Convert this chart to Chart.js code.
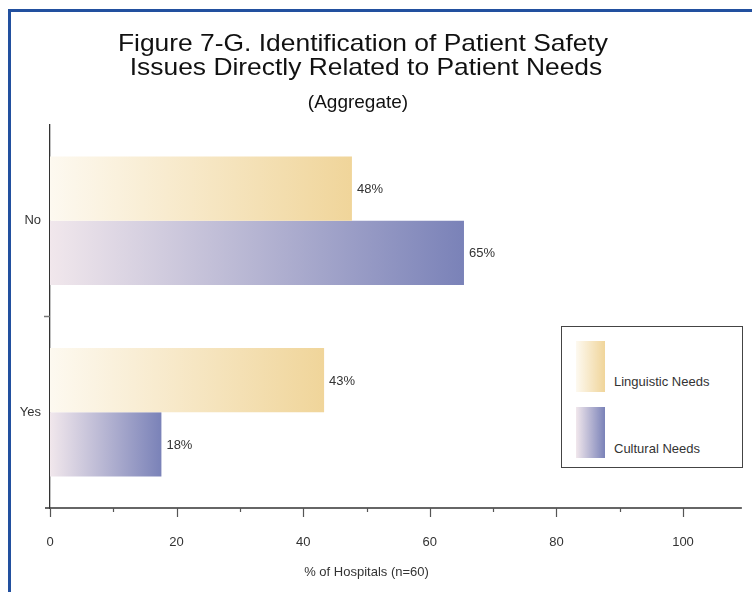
<!DOCTYPE html>
<html>
<head>
<meta charset="utf-8">
<script src="https://cdn.jsdelivr.net/npm/chart.js@4.4.1/dist/chart.umd.min.js"></script>
<style>
html,body{margin:0;padding:0;background:#fff;}
#wrap{position:relative;width:752px;height:592px;overflow:hidden;background:#fff;font-family:'Liberation Sans',Arial,Helvetica,sans-serif;}
#frame{position:absolute;left:8px;top:9px;width:800px;height:700px;border-left:3px solid #22509F;border-top:3px solid #22509F;}
#chart{position:absolute;left:0;top:0;}
.t{position:absolute;white-space:nowrap;text-align:center;color:#111;}
#legend{position:absolute;left:561px;top:326px;width:180px;height:140px;border:1px solid #444;background:#fff;}
.sw{position:absolute;left:14px;width:29px;height:51px;}
.lt{position:absolute;left:52px;font-size:13px;line-height:16px;color:#333;white-space:nowrap;}
</style>
</head>
<body>
<div id="wrap">
  <div id="frame"></div>
  <canvas id="chart" width="752" height="592"></canvas>
  <div class="t" id="t1" style="left:63px;width:600px;top:31px;font-size:24px;line-height:24px;transform:scaleX(1.1);"></div>
  <div class="t" id="t2" style="left:66px;width:600px;top:55px;font-size:24px;line-height:24px;transform:scaleX(1.1);"></div>
  <div class="t" id="t3" style="left:208px;width:300px;top:92px;font-size:19px;line-height:19px;"></div>
  <div id="legend"></div>
</div>
<script>
// ---- data ----
const titleLines = ['Figure 7-G. Identification of Patient Safety', 'Issues Directly Related to Patient Needs', '(Aggregate)'];
const categories = ['No', 'Yes'];
const seriesNames = ['Linguistic Needs', 'Cultural Needs'];
const linguisticValues = [47.7, 43.3];
const culturalValues = [65.4, 17.6];
const xTickValues = [0, 10, 20, 30, 40, 50, 60, 70, 80, 90, 100];
const xTickLabels = ['0', '', '20', '', '40', '', '60', '', '80', '', '100'];
const xAxisTitle = '% of Hospitals (n=60)';
const xAxisLineEnd = 109.3; // axis line drawn a bit past 100

// ---- styles ----
const seriesGradients = [
  ['#FDF9F0', '#F0D59A'],
  ['#F1E7EC', '#7A82B8']
];

document.getElementById('t1').textContent = titleLines[0];
document.getElementById('t2').textContent = titleLines[1];
document.getElementById('t3').textContent = titleLines[2];

// legend (HTML)
const legendEl = document.getElementById('legend');
seriesNames.forEach((name, i) => {
  const sw = document.createElement('div');
  sw.className = 'sw';
  sw.style.top = (14 + i * 66) + 'px';
  sw.style.background = 'linear-gradient(to right,' + seriesGradients[i][0] + ',' + seriesGradients[i][1] + ')';
  legendEl.appendChild(sw);
  const lt = document.createElement('div');
  lt.className = 'lt';
  lt.style.top = (47 + i * 67) + 'px';
  lt.textContent = name;
  legendEl.appendChild(lt);
});

function barGradient(stops) {
  return function (ctx) {
    const chart = ctx.chart;
    const xs = chart.scales && chart.scales.x;
    if (!xs || ctx.type !== 'data') return stops[1];
    const x0 = xs.getPixelForValue(0);
    const x1 = xs.getPixelForValue(ctx.raw);
    if (!isFinite(x0) || !isFinite(x1) || x1 <= x0) return stops[1];
    const g = chart.ctx.createLinearGradient(x0, 0, x1, 0);
    g.addColorStop(0, stops[0]);
    g.addColorStop(1, stops[1]);
    return g;
  };
}

const axisExtras = {
  id: 'axisExtras',
  afterDraw(chart) {
    const { ctx, chartArea: a, scales: { x, y } } = chart;
    ctx.save();
    // x axis line, extended
    ctx.strokeStyle = '#333';
    ctx.lineWidth = 1.3;
    ctx.beginPath();
    ctx.moveTo(a.left - 5, a.bottom);
    ctx.lineTo(x.getPixelForValue(xAxisLineEnd), a.bottom);
    ctx.stroke();
    // x tick marks
    ctx.strokeStyle = '#555';
    ctx.lineWidth = 1.2;
    xTickValues.forEach((v, i) => {
      const px = Math.round(x.getPixelForValue(v)) + 0.5;
      const len = xTickLabels[i] !== '' ? 9 : 4;
      ctx.beginPath();
      ctx.moveTo(px, a.bottom);
      ctx.lineTo(px, a.bottom + len);
      ctx.stroke();
    });
    // y boundary ticks between categories
    ctx.strokeStyle = '#777';
    ctx.lineWidth = 1.5;
    for (let i = 0; i < categories.length - 1; i++) {
      const py = (y.getPixelForValue(i) + y.getPixelForValue(i + 1)) / 2;
      ctx.beginPath();
      ctx.moveTo(a.left - 6, py);
      ctx.lineTo(a.left, py);
      ctx.stroke();
    }
    ctx.restore();
  },
  afterDatasetsDraw(chart) {
    const ctx = chart.ctx;
    ctx.save();
    ctx.font = '13px "Liberation Sans", Arial, sans-serif';
    ctx.fillStyle = '#333';
    ctx.textBaseline = 'middle';
    ctx.textAlign = 'left';
    chart.data.datasets.forEach((ds, i) => {
      const meta = chart.getDatasetMeta(i);
      meta.data.forEach((bar, j) => {
        ctx.fillText(Math.round(ds.data[j]) + '%', bar.x + 5, bar.y + 1);
      });
    });
    ctx.restore();
  }
};

new Chart(document.getElementById('chart'), {
  type: 'bar',
  data: {
    labels: categories,
    datasets: [
      { label: seriesNames[0], data: linguisticValues, backgroundColor: barGradient(seriesGradients[0]), borderWidth: 0 },
      { label: seriesNames[1], data: culturalValues, backgroundColor: barGradient(seriesGradients[1]), borderWidth: 0 }
    ]
  },
  options: {
    indexAxis: 'y',
    responsive: false,
    devicePixelRatio: 1,
    animation: false,
    categoryPercentage: 0.67,
    barPercentage: 1.0,
    layout: { padding: { left: 0, top: 125, right: 69, bottom: 0 } },
    plugins: { legend: { display: false }, title: { display: false }, tooltip: { enabled: false } },
    scales: {
      x: {
        type: 'linear',
        min: 0,
        max: 100,
        grid: { display: false, drawTicks: false },
        border: { display: false },
        afterBuildTicks(scale) { scale.ticks = xTickValues.map(v => ({ value: v })); },
        afterFit(scale) { scale.height = 84; },
        ticks: {
          autoSkip: false,
          maxRotation: 0,
          padding: 27,
          color: '#333',
          font: { family: '"Liberation Sans", Arial, sans-serif', size: 13 },
          callback: (v, i) => xTickLabels[i]
        },
        title: {
          display: true,
          text: xAxisTitle,
          color: '#333',
          font: { family: '"Liberation Sans", Arial, sans-serif', size: 13 },
          padding: { top: 0, bottom: 12 }
        }
      },
      y: {
        type: 'category',
        offset: true,
        grid: { display: false, drawTicks: false },
        border: { display: true, color: '#333', width: 1.3 },
        afterFit(scale) { scale.width = 50; },
        ticks: {
          padding: 9,
          color: '#333',
          font: { family: '"Liberation Sans", Arial, sans-serif', size: 13 }
        }
      }
    }
  },
  plugins: [axisExtras]
});
</script>
</body>
</html>
